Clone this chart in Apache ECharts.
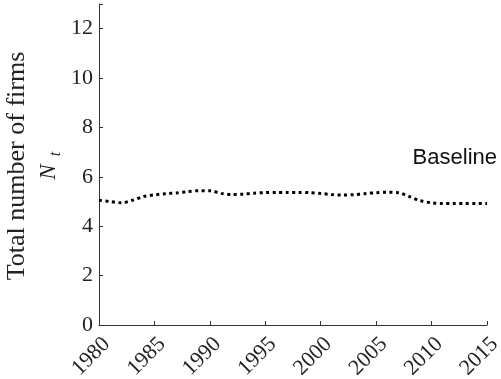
<!DOCTYPE html>
<html><head><meta charset="utf-8">
<script src="https://cdn.jsdelivr.net/npm/echarts@6/dist/echarts.min.js"></script>
<style>html,body{margin:0;padding:0;background:#fff}#c{width:501px;height:379px}</style>
</head><body><div id="c"></div>
<script>
const years = [1980,1981,1982,1983,1984,1985,1986,1987,1988,1989,1990,1991,1992,1993,1994,1995,1996,1997,1998,1999,2000,2001,2002,2003,2004,2005,2006,2007,2008,2009,2010,2011,2012,2013,2014,2015];
const baseline = [5.05,5.0,4.95,5.05,5.2,5.27,5.32,5.35,5.4,5.44,5.44,5.33,5.28,5.3,5.34,5.36,5.37,5.37,5.37,5.36,5.33,5.28,5.26,5.28,5.32,5.36,5.38,5.36,5.2,5.03,4.95,4.92,4.92,4.92,4.92,4.92];
const seriesName = 'Baseline';
const yTitle = 'Total number of firms';

const chart = echarts.init(document.getElementById('c'));
const serif = 'Liberation Serif';
chart.setOption({
  animation: false,
  grid: {left: 99, right: 14, top: 4, bottom: 54, containLabel: false, outerBoundsMode: 'none'},
  xAxis: {
    type: 'value', min: 1980, max: 2015, interval: 5,
    splitLine: {show: false},
    axisLine: {lineStyle: {color: '#333', width: 1}},
    axisTick: {inside: true, length: 4, lineStyle: {color: '#333'}},
    axisLabel: {rotate: 45, fontFamily: serif, fontSize: 22, color: '#222', margin: 8,
      verticalAlign: 'top', formatter: v => String(v)}
  },
  yAxis: {
    type: 'value', min: 0, max: 13, interval: 2,
    splitLine: {show: false},
    axisLine: {show: true, lineStyle: {color: '#333', width: 1}},
    axisTick: {show: true, inside: true, length: 4, lineStyle: {color: '#333'}},
    axisLabel: {fontFamily: serif, fontSize: 22, color: '#222', margin: 6,
      formatter: v => (v % 2 === 0 && v <= 12) ? String(v) : ''}
  },
  series: [{
    name: seriesName, type: 'line', showSymbol: false, smooth: 0.3,
    data: years.map((y, i) => [y, baseline[i]]),
    lineStyle: {color: '#000', width: 3, type: [3, 3.5], cap: 'butt'}
  }],
  graphic: [
    {type: 'text', x: 17, y: 166, rotation: Math.PI/2,
      style: {text: yTitle, font: '26px "Liberation Serif"', fill: '#222', align: 'center', verticalAlign: 'middle'}},
    {type: 'text', x: 49, y: 172, rotation: Math.PI/2,
      style: {text: 'N', font: 'italic 23px "Liberation Serif"', fill: '#222', align: 'center', verticalAlign: 'middle'}},
    {type: 'text', x: 56, y: 154, rotation: Math.PI/2,
      style: {text: 't', font: 'italic 16px "Liberation Serif"', fill: '#222', align: 'center', verticalAlign: 'middle'}},
    {type: 'text', x: 497, y: 158,
      style: {text: seriesName, font: '22px "Liberation Sans"', fill: '#111', align: 'right', verticalAlign: 'middle'}}
  ]
});
</script></body></html>
